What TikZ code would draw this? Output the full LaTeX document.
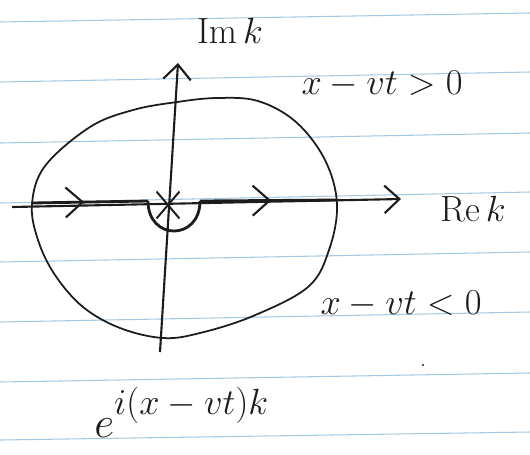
\documentclass[tikz,border=0pt]{standalone}
\usepackage{amsmath}
\usepackage{xcolor}
\usepackage{tikz}
\usetikzlibrary{arrows.meta, shapes.misc, decorations.markings}
\definecolor{ruleblue}{RGB}{165,200,228}
\definecolor{ink}{RGB}{28,28,28}

\begin{document}
\begin{tikzpicture}[
    x=0.02cm, y=-0.02cm,
    ruled/.style={ruleblue, line width=0.6pt},
    axis/.style={ink, line width=1.2pt, -{Straight Barb[length=3mm, width=5.5mm, line width=1.2pt]}},
    oval/.style={ink, line width=1pt},
    contour/.style={ink, line width=1.6pt},
    chev/.style={postaction={decorate}, decoration={markings,
                 mark=at position #1 with {\arrow{Straight Barb[length=3.4mm, width=6mm, line width=1.2pt]}}}},
    pole/.style={draw=ink, cross out, line width=1.1pt, minimum width=4.2mm,
                 minimum height=5mm, inner sep=0pt},
    lbl/.style={ink, inner sep=0pt, font=\fontsize{20}{22}\selectfont}
]
\fill[white] (0,0) rectangle (530,454);
\useasboundingbox (0,0) rectangle (530,454);

\foreach \l/\r in {22/13, 82/72, 143/133, 203/192, 262/252, 322/312, 382/373, 440/432}
  \draw[ruled] (0,\l) -- (530,\r);

\coordinate (imlo) at (160,352);
\coordinate (imhi) at (178,63);
\coordinate (relo) at (12,207);
\coordinate (rehi) at (401,199);
\coordinate (cl)   at (32,203);
\coordinate (ia)   at (148,201);
\coordinate (ib)   at (200,201);
\coordinate (cr)   at (337,200);

\draw[oval] plot[smooth cycle, tension=0.6] coordinates {
  (32,204) (45,166) (90,127) (133,110) (177,102) (217,98) (258,101)
  (296,122) (325,160) (337,204) (329,250) (308,287) (253,316) (200,333) (163,338)
  (120,328) (83,307) (55,275) (38,240)};

\draw[axis] (relo) -- (rehi);
\draw[axis] (imlo) -- (imhi);

\draw[contour, chev=0.45] (cl) -- (ia);
\draw[contour] (ia) .. controls +(0,40) and +(0,40) .. (ib);
\draw[contour, chev=0.52] (ib) -- (cr);

\node[pole] (pole) at (168,205) {};

\node[lbl] (imk)   at (230,31)  {$\mathrm{Im}\,k$};
\node[lbl] (upper) at (382,84)  {$x-vt>0$};
\node[lbl] (rek)   at (473,209) {$\mathrm{Re}\,k$};
\node[lbl] (lower) at (401,304) {$x-vt<0$};
\node[lbl, font=\fontsize{38}{40}\selectfont, anchor=base west] (wave) at (94,437)
  {$e^{\raisebox{4pt}{\fontsize{22}{24}\selectfont$i(x-vt)k$}}$};

\fill[ink] (423,365) circle[radius=1.2];
\end{tikzpicture}
\end{document}
